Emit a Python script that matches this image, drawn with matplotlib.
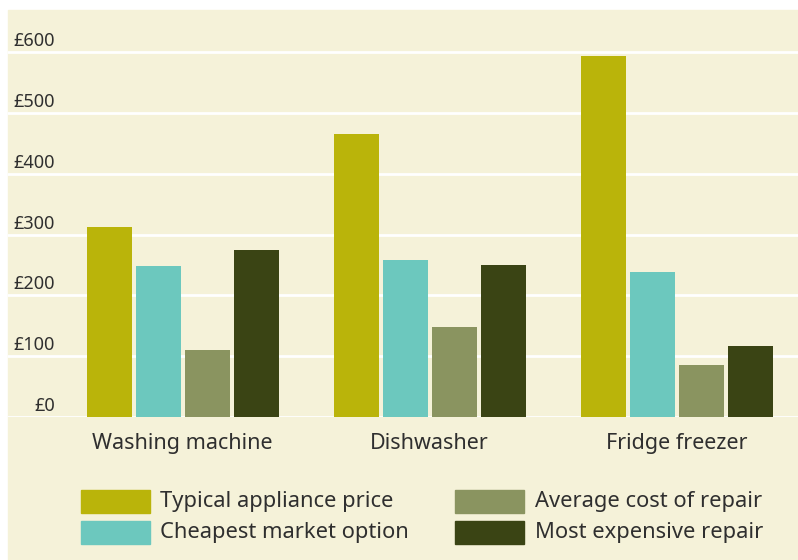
import numpy as np
import matplotlib.pyplot as plt
from matplotlib.patches import Rectangle
from matplotlib import transforms

categories = ["Washing machine", "Dishwasher", "Fridge freezer"]
series = ["Typical appliance price", "Cheapest market option",
          "Average cost of repair", "Most expensive repair"]
typical = [313, 466, 593]
cheapest = [249, 259, 239]
average = [111, 148, 86]
most_exp = [275, 250, 116]
ytick_vals = [0, 100, 200, 300, 400, 500, 600]
ytick_labels = ["£0", "£100", "£200", "£300", "£400", "£500", "£600"]

colors = ["#bab40a", "#6cc8be", "#8a9460", "#3a4414"]
bg = "#f5f2d9"
txt = "#2f2f2f"
plt.rcParams["font.family"] = ["Noto Sans", "DejaVu Sans"]

W, H = 798, 560
fig = plt.figure(figsize=(W / 100, H / 100), dpi=100, facecolor="white")
fig.patches.append(Rectangle((8 / W, 0), 1 - 8 / W, (H - 10) / H,
                             transform=fig.transFigure, color=bg, zorder=-10))

ax = fig.add_axes([8 / W, (H - 417) / H, 1 - 8 / W, (417 - 10) / H])
ax.set_facecolor("none")
for s in ax.spines.values():
    s.set_visible(False)

step = 49 / 247
width = 45 / 247
x = np.arange(len(categories))
for i, vals in enumerate([typical, cheapest, average, most_exp]):
    ax.bar(x + (i - 1.5) * step, vals, width, color=colors[i], zorder=3)

ax.set_xlim((8 - 182.5) / 247, (798 - 182.5) / 247)
ax.set_ylim(0, 407 / 0.608)
ax.set_yticks([])
for v in ytick_vals:
    ax.axhline(v, color="white", lw=2, zorder=2)

off = transforms.ScaledTranslation(0, 6 / 100, fig.dpi_scale_trans)
trans = transforms.blended_transform_factory(ax.transAxes, ax.transData) + off
for v, lab in zip(ytick_vals, ytick_labels):
    ax.text((55 - 8) / (W - 8), v, lab, transform=trans, ha="right",
            va="baseline", fontsize=13, color=txt)

ax.set_xticks(x)
ax.set_xticklabels(categories, fontsize=15.5, color=txt)
ax.tick_params(axis="x", length=0, pad=11.5)

# legend
rows = [501.5, 532.5]
cols = [(81, 160), (455, 535)]
for i, name in enumerate(series):
    c = cols[i // 2]
    r = rows[i % 2]
    fig.patches.append(Rectangle((c[0] / W, (H - r - 11.5) / H), 69 / W, 23 / H,
                                 transform=fig.transFigure, color=colors[i],
                                 zorder=2))
    fig.text(c[1] / W, (H - r) / H, name, ha="left", va="center",
             fontsize=15.8, color=txt)

fig.savefig("out.png", dpi=100, facecolor=fig.get_facecolor())
